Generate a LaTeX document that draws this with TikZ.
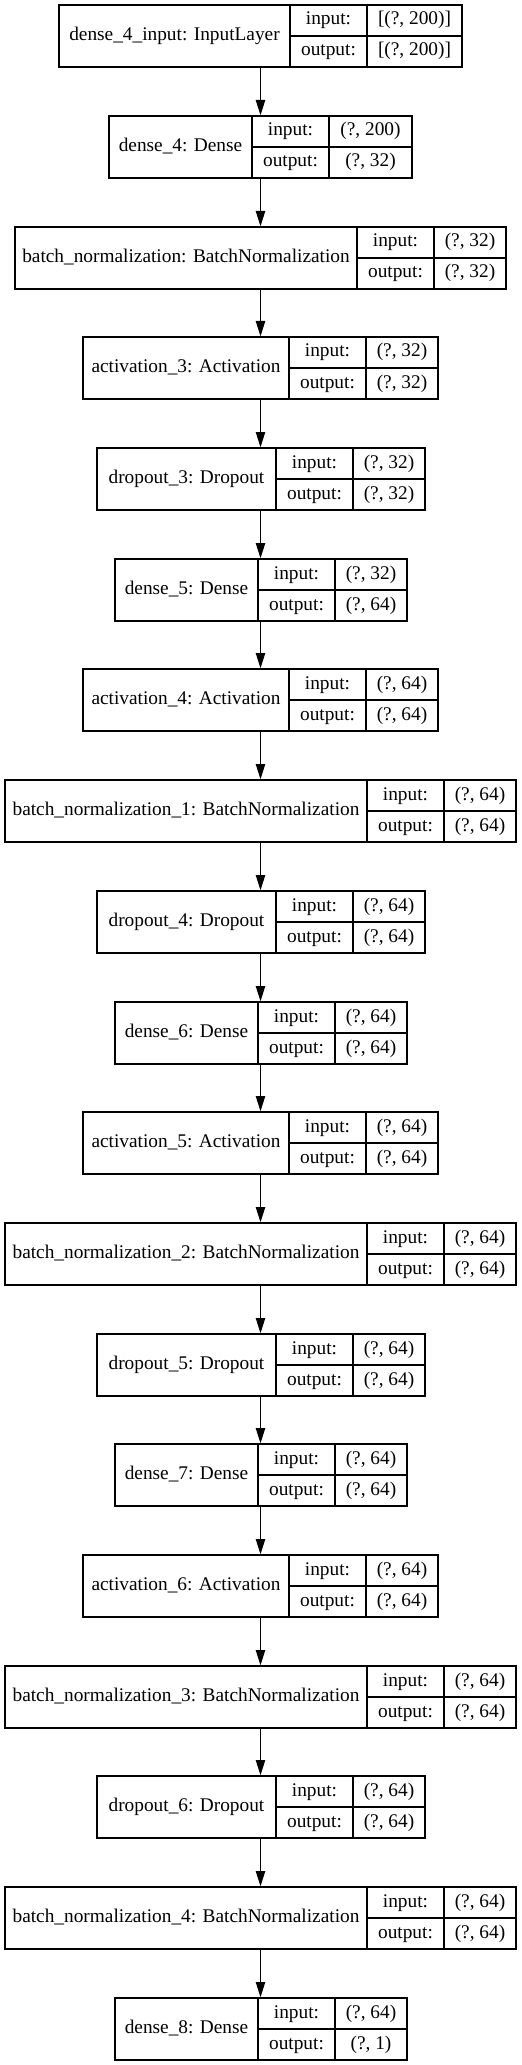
\documentclass[tikz,border=0pt]{standalone}
\usepackage{fontspec}
\setmainfont{Liberation Serif}
\usetikzlibrary{arrows.meta}
\tikzset{
 box/.style={draw, line width=1pt, inner sep=0pt, minimum height=62*0.75pt},
 fld/.style={inner sep=0pt, anchor=base, font=\fontsize{14.5pt}{17pt}\selectfont},
 link/.style={line width=1pt, -{Triangle[length=11.5pt,width=7pt]}},
 sepline/.style={line width=1pt}
}
\newcommand\layer[7]{%
 \pgfmathsetmacro\Lyt{round(5.3+110.7*#2)}%
 \pgfmathsetmacro\Ltw{#3+77+#4}%
 \pgfmathsetmacro\Lxo{round(260.5-\Ltw/2)}%
 \pgfmathsetmacro\Lxc{\Lxo+\Ltw/2}%
 \pgfmathsetmacro\Lxa{\Lxo+#3}%
 \pgfmathsetmacro\Lxb{\Lxa+77}%
 \pgfmathsetmacro\Lxe{\Lxo+\Ltw}%
 \pgfmathsetmacro\Lym{\Lyt+31}%
 \pgfmathsetmacro\Lyb{\Lyt+62}%
 \node[box, minimum width=\Ltw*0.75pt] (#1) at (\Lxc,\Lym) {};
 \draw[sepline] (\Lxa,\Lyt) -- (\Lxa,\Lyb);
 \draw[sepline] (\Lxb,\Lyt) -- (\Lxb,\Lyb);
 \draw[sepline] (\Lxa,\Lym) -- (\Lxe,\Lym);
 \node[fld] (#1-l) at ({\Lxo+#3/2},{\Lym+4.7}) {#5};
 \node[fld] (#1-ik) at ({\Lxa+38.5},{\Lyt+15.5+4.5}) {input:};
 \node[fld] (#1-ok) at ({\Lxa+38.5},{\Lym+15.5+4.5}) {output:};
 \node[fld] (#1-iv) at ({\Lxb+#4/2},{\Lyt+15.5+4.5}) {#6};
 \node[fld] (#1-ov) at ({\Lxb+#4/2},{\Lym+15.5+4.5}) {#7};
}
\begin{document}
\begin{tikzpicture}[x=0.75pt,y=-0.75pt]
\useasboundingbox (0,0) rectangle (521,2065);
\fill[white] (0,0) rectangle (521,2065);
\coordinate (axis) at (260.5,0);
\layer{L0}{0}{231}{95}{dense\_4\_input: InputLayer}{[(?, 200)]}{[(?, 200)]}
\layer{L1}{1}{143}{83}{dense\_4: Dense}{(?, 200)}{(?, 32)}
\layer{L2}{2}{342}{72}{batch\_normalization: BatchNormalization}{(?, 32)}{(?, 32)}
\layer{L3}{3}{206}{72}{activation\_3: Activation}{(?, 32)}{(?, 32)}
\layer{L4}{4}{179}{72}{dropout\_3: Dropout}{(?, 32)}{(?, 32)}
\layer{L5}{5}{143}{72}{dense\_5: Dense}{(?, 32)}{(?, 64)}
\layer{L6}{6}{206}{72}{activation\_4: Activation}{(?, 64)}{(?, 64)}
\layer{L7}{7}{362}{72}{batch\_normalization\_1: BatchNormalization}{(?, 64)}{(?, 64)}
\layer{L8}{8}{179}{72}{dropout\_4: Dropout}{(?, 64)}{(?, 64)}
\layer{L9}{9}{143}{72}{dense\_6: Dense}{(?, 64)}{(?, 64)}
\layer{L10}{10}{206}{72}{activation\_5: Activation}{(?, 64)}{(?, 64)}
\layer{L11}{11}{362}{72}{batch\_normalization\_2: BatchNormalization}{(?, 64)}{(?, 64)}
\layer{L12}{12}{179}{72}{dropout\_5: Dropout}{(?, 64)}{(?, 64)}
\layer{L13}{13}{143}{72}{dense\_7: Dense}{(?, 64)}{(?, 64)}
\layer{L14}{14}{206}{72}{activation\_6: Activation}{(?, 64)}{(?, 64)}
\layer{L15}{15}{362}{72}{batch\_normalization\_3: BatchNormalization}{(?, 64)}{(?, 64)}
\layer{L16}{16}{179}{72}{dropout\_6: Dropout}{(?, 64)}{(?, 64)}
\layer{L17}{17}{362}{72}{batch\_normalization\_4: BatchNormalization}{(?, 64)}{(?, 64)}
\layer{L18}{18}{143}{72}{dense\_8: Dense}{(?, 64)}{(?, 1)}
\foreach \a/\b in {0/1,1/2,2/3,3/4,4/5,5/6,6/7,7/8,8/9,9/10,10/11,11/12,12/13,13/14,14/15,15/16,16/17,17/18}
  \draw[link] (L\a.south -| axis) -- (L\b.north -| axis);
\end{tikzpicture}
\end{document}
